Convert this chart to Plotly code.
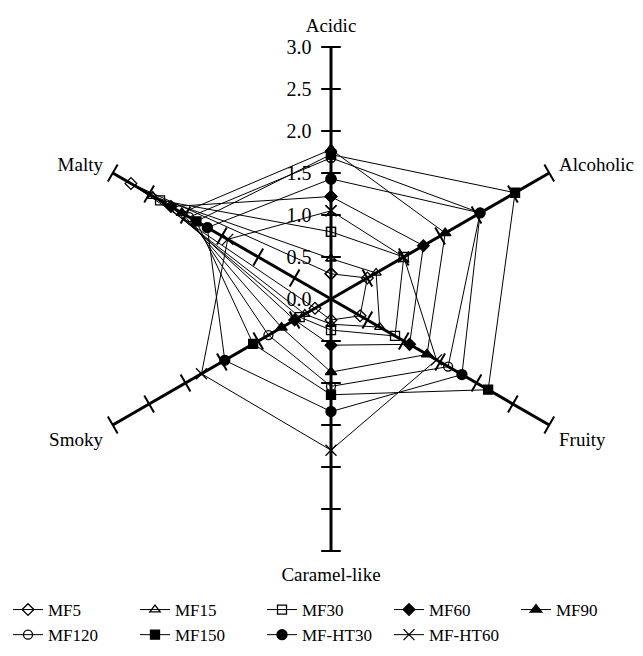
import plotly.graph_objects as go

categories = ["Acidic", "Alcoholic", "Fruity", "Caramel-like", "Smoky", "Malty"]
series_names = ["MF5", "MF15", "MF30", "MF60", "MF90", "MF120", "MF150", "MF-HT30", "MF-HT60"]

MF5 = [0.30, 0.50, 0.40, 0.25, 0.22, 2.75]
MF15 = [0.48, 0.62, 0.67, 0.30, 0.36, 2.45]
MF30 = [0.80, 1.00, 0.88, 0.37, 0.43, 2.35]
MF60 = [1.22, 1.27, 1.08, 0.55, 0.50, 2.20]
MF90 = [1.78, 1.57, 1.32, 0.87, 0.68, 2.05]
MF120 = [1.68, 2.05, 1.61, 1.04, 0.86, 1.95]
MF150 = [1.72, 2.53, 2.16, 1.14, 1.07, 1.85]
MF_HT30 = [1.43, 2.05, 1.80, 1.34, 1.46, 1.70]
MF_HT60 = [1.05, 1.00, 1.45, 1.80, 1.78, 1.42]

tick_values = [0.5, 1.0, 1.5, 2.0, 2.5, 3.0]
tick_labels = ["0.0", "0.5", "1.0", "1.5", "2.0", "2.5", "3.0"]

series_values = [MF5, MF15, MF30, MF60, MF90, MF120, MF150, MF_HT30, MF_HT60]
symbols = ["diamond-open", "triangle-up-open", "square-open", "diamond", "triangle-up",
           "circle-open", "square", "circle", "x-thin-open"]
sizes = [9, 9, 9, 9, 10, 9, 9, 10, 11]

SERIF = "Liberation Serif"

fig = go.Figure()

# tick marks across each spoke (perpendicular short bars)
spoke_angles = [90, 30, -30, -90, 210, 150]
for cat, ang in zip(categories, spoke_angles):
    rot = (-(ang + 90)) % 180
    fig.add_trace(go.Scatterpolar(
        r=tick_values, theta=[cat] * len(tick_values), mode="markers",
        marker=dict(symbol="line-ew", size=14, angle=rot,
                    line=dict(color="black", width=2)),
        showlegend=False, hoverinfo="skip"))

for name, vals, sym, sz in zip(series_names, series_values, symbols, sizes):
    fig.add_trace(go.Scatterpolar(
        r=vals + vals[:1], theta=categories + categories[:1], name=name,
        mode="lines+markers",
        line=dict(color="black", width=1),
        marker=dict(symbol=sym, size=sz, color="black",
                    line=dict(color="black", width=1.3)),
    ))

cx, cy, R = 323, 291, 252
W, H = 643, 656
fig.update_layout(
    width=W, height=H,
    margin=dict(l=0, r=0, t=0, b=0, autoexpand=False),
    paper_bgcolor="white",
    font=dict(family=SERIF, color="black"),
    polar=dict(
        domain=dict(x=[(cx - R) / W, (cx + R) / W], y=[(H - cy - R) / H, (H - cy + R) / H]),
        bgcolor="white",
        angularaxis=dict(
            rotation=90, direction="clockwise", type="category",
            categoryarray=categories,
            showline=False, showgrid=True, gridcolor="black", gridwidth=2.5,
            ticks="outside", ticklen=7, tickcolor="rgba(0,0,0,0)",
            tickfont=dict(family=SERIF, size=19, color="black"),
        ),
        radialaxis=dict(
            range=[0, 3], angle=90, side="counterclockwise", tickangle=90,
            tickvals=[0.0] + tick_values, ticktext=tick_labels,
            showgrid=False, showline=False,
            ticks="outside", ticklen=12, tickcolor="rgba(0,0,0,0)",
            tickfont=dict(family=SERIF, size=20, color="black"),
        ),
    ),
    legend=dict(
        orientation="h", x=0, xanchor="left", y=(H - 584) / H, yanchor="top",
        font=dict(family=SERIF, size=17, color="black"),
        entrywidth=82, entrywidthmode="pixels",
        bgcolor="rgba(0,0,0,0)",
    ),
)

fig.write_html("out.html")
